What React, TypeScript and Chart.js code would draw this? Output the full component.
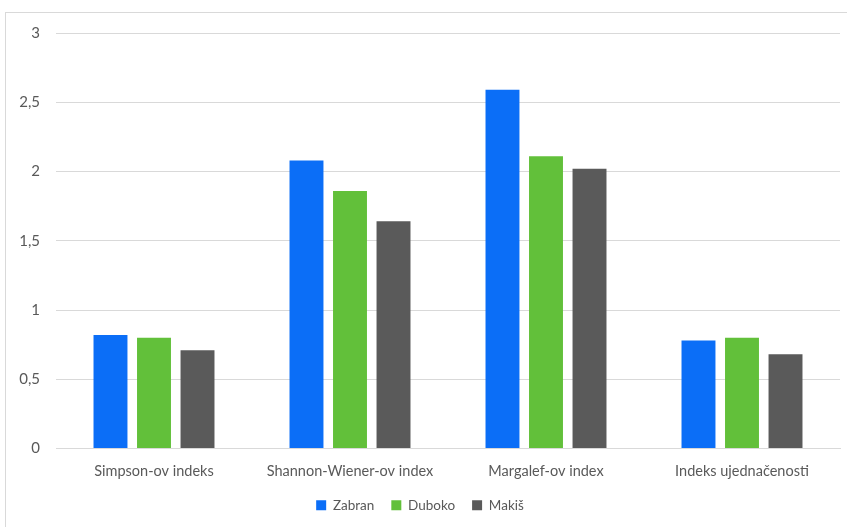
import React, { useEffect, useRef } from "react";
import { Chart, registerables } from "chart.js";

Chart.register(...registerables);

const categories = ["Simpson-ov indeks", "Shannon-Wiener-ov index", "Margalef-ov index", "Indeks ujednačenosti"];
const zabran = [0.82, 2.08, 2.59, 0.78];
const duboko = [0.8, 1.86, 2.11, 0.8];
const makis = [0.71, 1.64, 2.02, 0.68];
const seriesNames = ["Zabran", "Duboko", "Makiš"];
const seriesColors = ["#0b6ef7", "#62c03a", "#5a5a5a"];

const FONT = "Lato, 'Open Sans', sans-serif";

export default function App() {
  const ref = useRef<HTMLCanvasElement>(null);
  useEffect(() => {
    if (!ref.current) return;
    const chart = new Chart(ref.current, {
      type: "bar",
      data: {
        labels: categories,
        datasets: [zabran, duboko, makis].map((d, i) => ({
          label: seriesNames[i],
          data: d,
          backgroundColor: seriesColors[i],
          borderWidth: 0,
          categoryPercentage: 0.666,
          barPercentage: 0.78,
        })),
      },
      options: {
        animation: false,
        responsive: false,
        maintainAspectRatio: false,
        layout: { padding: { left: 0, right: 7, top: 33, bottom: 5 } },
        plugins: {
          tooltip: { enabled: false },
          legend: {
            position: "bottom",
            labels: {
              boxWidth: 10,
              boxHeight: 10,
              padding: 17,
              color: "#595959",
              font: { family: FONT, size: 13.5 },
            },
          },
        },
        scales: {
          x: {
            grid: { display: false, drawTicks: false },
            border: { display: true, color: "#d9d9d9" },
            ticks: { color: "#595959", font: { family: FONT, size: 14.5 }, padding: 14, maxRotation: 0 },
            afterFit: (s: any) => { s.height = 33; },
          },
          y: {
            min: 0,
            max: 3,
            grid: { color: "#d9d9d9", drawTicks: false },
            border: { display: false },
            ticks: {
              stepSize: 0.5,
              color: "#595959",
              font: { family: FONT, size: 15 },
              padding: 16,
              callback: (v: any) => String(v).replace(".", ","),
            },
            afterFit: (s: any) => { s.width = 56; },
          },
        },
      },
    });
    return () => chart.destroy();
  }, []);
  return (
    <div style={{ position: "fixed", left: 0, top: 0, width: 847, height: 527, background: "#fff" }}>
      <div style={{ position: "absolute", left: 5, top: 12, width: 860, height: 540, border: "1px solid #d9d9d9" }} />
      <canvas ref={ref} width={847} height={527} style={{ position: "absolute", left: 0, top: 0 }} />
    </div>
  );
}
